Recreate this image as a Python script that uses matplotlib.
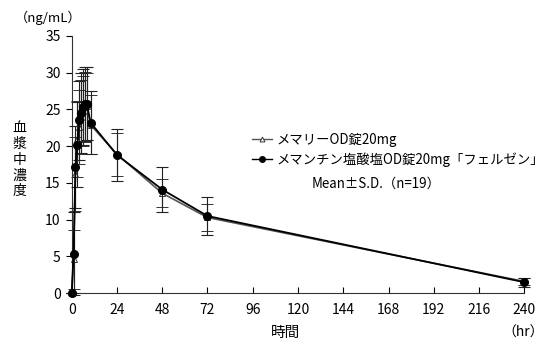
import matplotlib
matplotlib.use("Agg")
import matplotlib.pyplot as plt
from matplotlib.lines import Line2D

plt.rcParams['font.family'] = ['Noto Sans CJK JP', 'DejaVu Sans']

# Data
time_h = [0, 1, 2, 3, 4, 5, 6, 7, 8, 10, 24, 48, 72, 240]
memary_mean = [0, 4.6, 16.2, 21.0, 22.6, 24.0, 24.8, 25.3, 25.4, 22.9, 18.9, 13.6, 10.3, 1.6]
memary_sd = [0, 4.0, 5.0, 5.2, 5.0, 5.0, 4.8, 4.8, 4.6, 4.0, 2.95, 1.9, 1.8, 0.5]
felzen_mean = [0, 5.4, 17.2, 20.2, 23.5, 24.5, 25.3, 25.7, 25.8, 23.2, 18.8, 14.1, 10.5, 1.5]
felzen_sd = [0, 5.6, 5.6, 5.8, 5.4, 5.4, 5.2, 5.0, 5.0, 4.3, 3.6, 3.0, 2.6, 0.6]

xticks = [0, 24, 48, 72, 96, 120, 144, 168, 192, 216, 240]
yticks = [0, 5, 10, 15, 20, 25, 30, 35]

fig = plt.figure(figsize=(5.49, 3.55), dpi=100)
ax = fig.add_axes([0.1306, 0.174, 0.8244, 0.725])

ax.errorbar(time_h, memary_mean, yerr=memary_sd, color='#555555', ecolor='#333333',
            elinewidth=0.8, capsize=4, capthick=0.8, lw=1.2, marker='^', ms=4,
            mfc='white', mec='#333333', mew=0.7, zorder=2)
ax.errorbar(time_h, felzen_mean, yerr=felzen_sd, color='black', ecolor='#222222',
            elinewidth=0.8, capsize=4, capthick=0.8, lw=1.3, marker='o', ms=5.5,
            mfc='black', mec='black', zorder=3)

ax.set_xlim(0, 240)
ax.set_ylim(0, 35)
ax.set_xticks(xticks)
ax.set_yticks(yticks)
ax.tick_params(axis='x', direction='in', length=4, labelsize=10, pad=7, width=0.8)
ax.tick_params(axis='y', direction='out', length=4, labelsize=10, pad=4, width=0.8)
for s in ['top', 'right']:
    ax.spines[s].set_visible(False)
for s in ['left', 'bottom']:
    ax.spines[s].set_linewidth(0.8)
    ax.spines[s].set_color('#333333')
for c in ax.get_children():
    try:
        c.set_clip_on(False)
    except Exception:
        pass

handles = [
    Line2D([], [], color='#555555', lw=1.0, marker='^', ms=3.5, mfc='white', mec='#333333', mew=0.7),
    Line2D([], [], color='black', lw=1.0, marker='o', ms=4, mfc='black', mec='black'),
]
labels = ['メマリーOD錠20mg', 'メマンチン塩酸塩OD錠20mg「フェルゼン」']
leg = fig.legend(handles, labels, loc='upper left', bbox_to_anchor=(0.447, 0.645),
                 frameon=False, fontsize=9.6, handlelength=1.5, handletextpad=0.3,
                 labelspacing=0.4, borderpad=0)
fig.text(0.685, 0.483, 'Mean±S.D.（n=19）', fontsize=9.6, ha='center', va='center')

fig.text(0.027, 0.95, '（ng/mL）', fontsize=9.5, ha='left', va='center')
fig.text(0.035, 0.55, '血\n漿\n中\n濃\n度', fontsize=10, ha='center', va='center', linespacing=1.15)
fig.text(0.52, 0.063, '時間', fontsize=10.5, ha='center', va='center')
fig.text(0.99, 0.063, '（hr）', fontsize=10, ha='right', va='center')

fig.savefig('out.png', dpi=100)
